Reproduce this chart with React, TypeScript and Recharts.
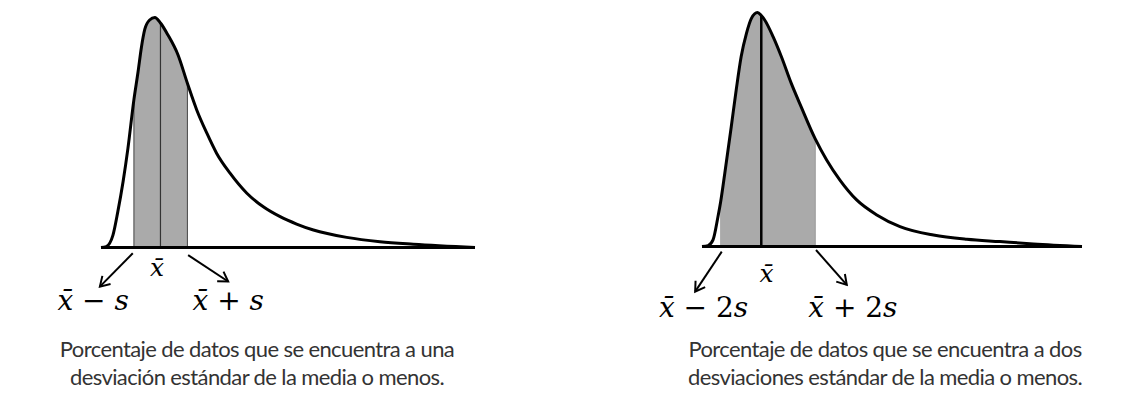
import React from 'react';
import { ComposedChart, Area, Line, XAxis, YAxis, ReferenceLine, ReferenceDot } from 'recharts';

// Skewed curve, one standard deviation band (x: 0-100 across the curve, y: 0-100 of peak)
const oneSdX = [0, 1.4, 3.2, 4.5, 5.9, 7.2, 8.8, 9.9, 10.8, 11.7, 13.0, 14.4, 15.9, 17.9, 20.6, 23.1, 25.6, 28.3, 30.9, 34.5, 39.0, 43.4, 47.9, 52.3, 56.8, 65.7, 74.6, 83.5, 100];
const oneSdY = [0, 0.4, 5.4, 15.6, 28.6, 43.1, 64.3, 76.3, 87.0, 94.8, 98.9, 100, 97.6, 92.4, 83.7, 71.4, 59.8, 49.7, 41.0, 32.3, 23.6, 17.7, 13.4, 10.2, 7.6, 4.4, 2.5, 1.4, 0];
const oneSdBand = [8.8, 23.1];
const oneSdMean = 15.9;

// Same curve, two standard deviation band
const twoSdX = [0, 1.6, 2.9, 4.2, 4.9, 6.0, 7.7, 9.0, 10.3, 11.7, 13.0, 14.6, 15.6, 16.5, 18.7, 20.9, 23.5, 26.1, 29.8, 32.8, 36.3, 40.7, 46.0, 52.1, 60.9, 69.7, 78.4, 87.2, 100];
const twoSdY = [0, 0.4, 2.8, 12.7, 19.0, 31.3, 51.2, 66.9, 81.1, 91.1, 97.5, 100, 98.7, 96.8, 89.7, 81.1, 69.7, 59.7, 46.0, 37.0, 28.4, 19.9, 13.5, 8.5, 4.9, 3.1, 2.1, 1.1, 0];
const twoSdBand = [4.9, 29.8];
const twoSdMean = 15.6;

const captions = [
  ['Porcentaje de datos que se encuentra a una', 'desviación estándar de la media o menos.'],
  ['Porcentaje de datos que se encuentra a dos', 'desviaciones estándar de la media o menos.'],
];

type Part = [string, boolean];
type Tag = { x: number; y: number; size: number; parts: Part[] };
type Pointer = { from: [number, number]; to: [number, number] };

const MATH_FONT = "'DejaVu Serif', 'Liberation Serif', serif";
const GAP = '\u00a0';

const buildRows = (xs: number[], ys: number[], band: number[]) =>
  xs.map((x, i) => ({
    x,
    y: ys[i],
    band: x >= band[0] && x <= band[1] ? ys[i] : null,
  }));

const yAt = (xs: number[], ys: number[], x: number) => ys[xs.indexOf(x)];

// arrow with an open head, drawn in pixel space
const ArrowShape = (p: any) => {
  const { x1, y1, x2, y2 } = p;
  const a = Math.atan2(y2 - y1, x2 - x1);
  const len = 11;
  const spread = 0.55;
  const hx1 = x2 - len * Math.cos(a - spread);
  const hy1 = y2 - len * Math.sin(a - spread);
  const hx2 = x2 - len * Math.cos(a + spread);
  const hy2 = y2 - len * Math.sin(a + spread);
  return (
    <g>
      <line x1={x1} y1={y1} x2={x2} y2={y2} stroke="#000" strokeWidth={2} />
      <polyline points={`${hx1},${hy1} ${x2},${y2} ${hx2},${hy2}`} fill="none" stroke="#000" strokeWidth={2} />
    </g>
  );
};

const tagShape = (t: Tag) => (p: any) => (
  <text x={p.cx} y={p.cy} textAnchor="middle" fontFamily={MATH_FONT} fontSize={t.size} fill="#000">
    {t.parts.map(([s, it], i) => (
      <tspan key={i} fontStyle={it ? 'italic' : 'normal'}>{s}</tspan>
    ))}
  </text>
);

interface PanelProps {
  xs: number[];
  ys: number[];
  band: number[];
  mean: number;
  width: number;
  margin: { top: number; right: number; bottom: number; left: number };
  edgeStroke: [string, string];
  meanStroke: string;
  meanWidth: number;
  tags: Tag[];
  pointers: Pointer[];
}

const Panel: React.FC<PanelProps> = ({ xs, ys, band, mean, width, margin, edgeStroke, meanStroke, meanWidth, tags, pointers }) => {
  const rows = buildRows(xs, ys, band);
  return (
    <ComposedChart width={width} height={393} data={rows} margin={margin}>
      <XAxis type="number" dataKey="x" domain={[0, 100]} hide />
      <YAxis type="number" domain={[0, 100]} hide />
      <Area
        type="monotone"
        dataKey="band"
        fill="#aaaaaa"
        fillOpacity={1}
        stroke="none"
        isAnimationActive={false}
      />
      <ReferenceLine
        segment={[{ x: band[0], y: 0 }, { x: band[0], y: yAt(xs, ys, band[0]) }]}
        stroke={edgeStroke[0]}
        strokeWidth={1}
        ifOverflow="visible"
      />
      <ReferenceLine
        segment={[{ x: band[1], y: 0 }, { x: band[1], y: yAt(xs, ys, band[1]) }]}
        stroke={edgeStroke[1]}
        strokeWidth={1}
        ifOverflow="visible"
      />
      <ReferenceLine
        segment={[{ x: mean, y: 0 }, { x: mean, y: yAt(xs, ys, mean) }]}
        stroke={meanStroke}
        strokeWidth={meanWidth}
        ifOverflow="visible"
      />
      <ReferenceLine y={0} stroke="#000" strokeWidth={3} ifOverflow="visible" />
      <Line
        type="monotone"
        dataKey="y"
        stroke="#000"
        strokeWidth={3}
        dot={false}
        activeDot={false}
        isAnimationActive={false}
      />
      {pointers.map((a, i) => (
        <ReferenceLine
          key={`arrow-${i}`}
          segment={[{ x: a.from[0], y: a.from[1] }, { x: a.to[0], y: a.to[1] }]}
          ifOverflow="visible"
          shape={ArrowShape}
        />
      ))}
      {tags.map((t, i) => (
        <ReferenceDot key={`tag-${i}`} x={t.x} y={t.y} r={0} ifOverflow="visible" shape={tagShape(t)} />
      ))}
    </ComposedChart>
  );
};

const captionStyle: React.CSSProperties = {
  position: 'absolute',
  top: 334.5,
  width: 520,
  textAlign: 'center',
  fontFamily: "Lato, 'Noto Sans', sans-serif",
  fontSize: 22,
  letterSpacing: -0.6,
  lineHeight: '28px',
  color: '#333',
};

export default function App() {
  return (
    <div style={{ position: 'absolute', left: 0, top: 0, width: 1139, height: 393, background: '#fff', overflow: 'hidden' }}>
      <div style={{ position: 'absolute', left: 0, top: 0 }}>
        <Panel
          xs={oneSdX}
          ys={oneSdY}
          band={oneSdBand}
          mean={oneSdMean}
          width={570}
          margin={{ top: 17.5, right: 95, bottom: 145.5, left: 101 }}
          edgeStroke={['#444', '#444']}
          meanStroke="#333"
          meanWidth={1.2}
          pointers={[
            { from: [8.5, -2.5], to: [-0.3, -17] },
            { from: [23.3, -3.3], to: [34.0, -14.8] },
          ]}
          tags={[
            { x: 15.0, y: -12.6, size: 25, parts: [['x̄', true]] },
            { x: -2.1, y: -27.2, size: 28, parts: [['x̄', true], [GAP + '−' + GAP, false], ['s', true]] },
            { x: 34.0, y: -27.2, size: 28, parts: [['x̄', true], [GAP + '+' + GAP, false], ['s', true]] },
          ]}
        />
      </div>
      <div style={{ position: 'absolute', left: 570, top: 0 }}>
        <Panel
          xs={twoSdX}
          ys={twoSdY}
          band={twoSdBand}
          mean={twoSdMean}
          width={569}
          margin={{ top: 12.5, right: 57, bottom: 146.5, left: 132 }}
          edgeStroke={['#aaaaaa', '#999']}
          meanStroke="#000"
          meanWidth={2.5}
          pointers={[
            { from: [5.2, -2.2], to: [-1.8, -19.3] },
            { from: [30.0, -1.5], to: [38.1, -16.4] },
          ]}
          tags={[
            { x: 17.0, y: -15.2, size: 25, parts: [['x̄', true]] },
            { x: 0.4, y: -30.1, size: 28, parts: [['x̄', true], [GAP + '−' + GAP, false], ['2', false], ['s', true]] },
            { x: 39.7, y: -30.1, size: 28, parts: [['x̄', true], [GAP + '+' + GAP, false], ['2', false], ['s', true]] },
          ]}
        />
      </div>
      <div style={{ ...captionStyle, left: 257 - 260 }}>
        {captions[0][0]}
        <br />
        {captions[0][1]}
      </div>
      <div style={{ ...captionStyle, left: 885 - 260 }}>
        {captions[1][0]}
        <br />
        {captions[1][1]}
      </div>
    </div>
  );
}
